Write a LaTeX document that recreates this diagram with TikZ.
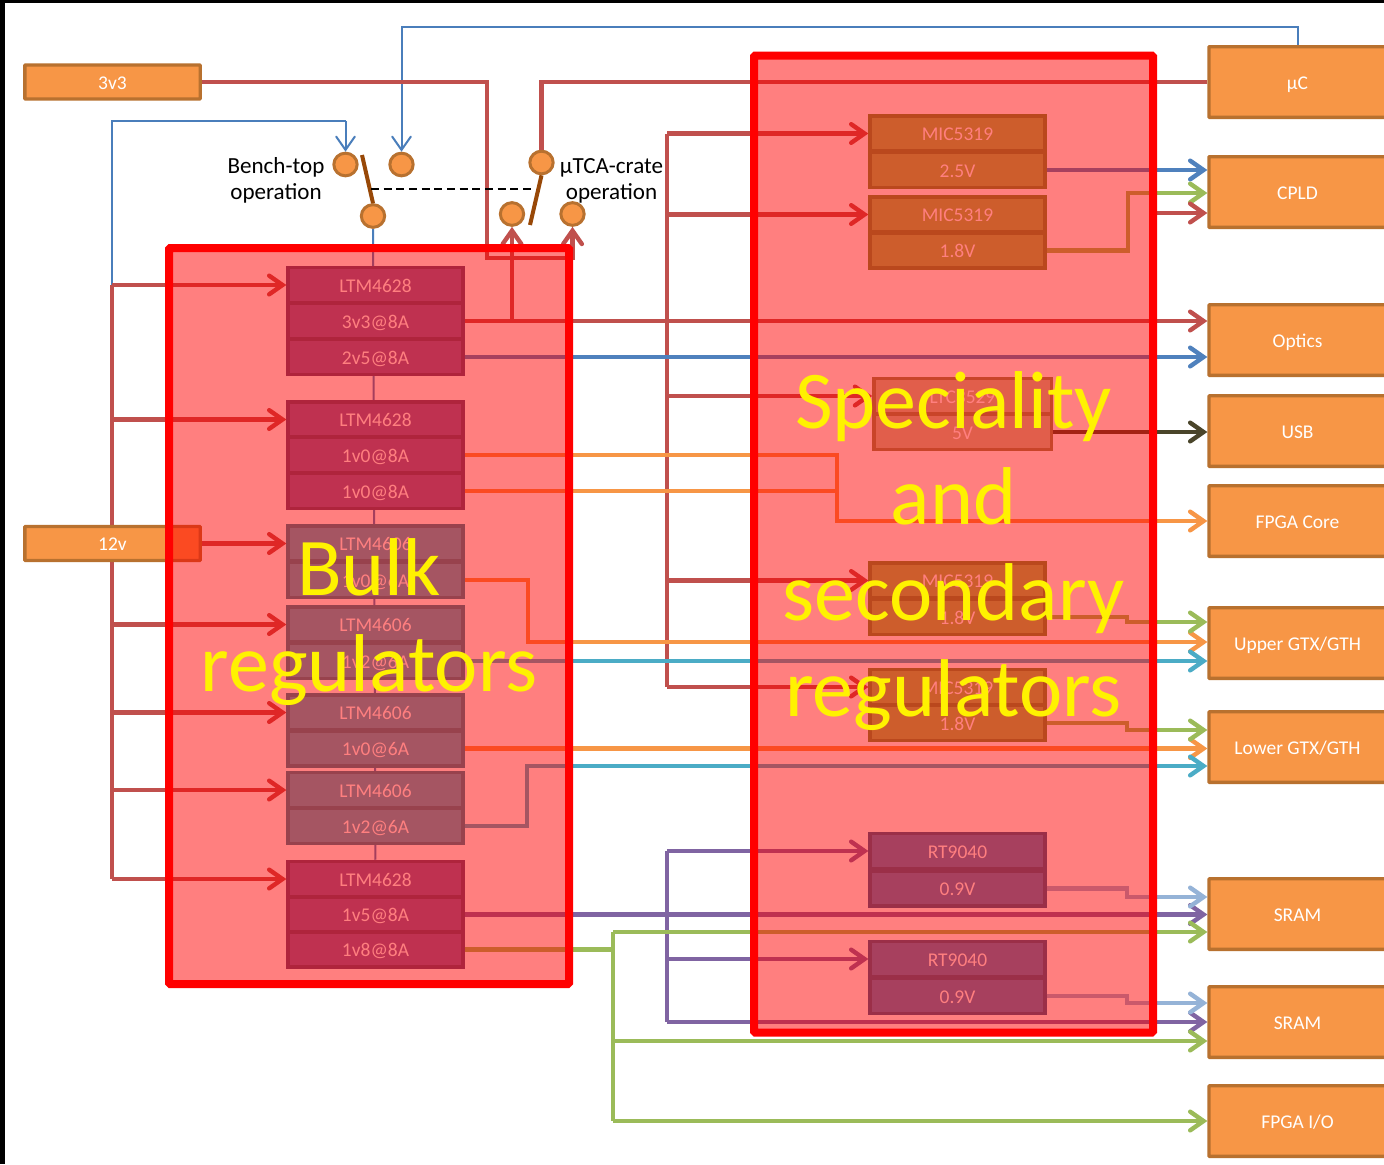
\documentclass[tikz,border=0pt]{standalone}
\usepackage{fontspec}
\setmainfont{Carlito}
\usetikzlibrary{arrows.meta,shapes.geometric}
\pgfdeclarelayer{under}
\pgfdeclarelayer{over}
\pgfsetlayers{under,main,over}
\definecolor{wRed}{HTML}{C0504D}
\definecolor{wBlue}{HTML}{4F81BD}
\definecolor{wThin}{HTML}{4A7EBB}
\definecolor{wGreen}{HTML}{9BBB59}
\definecolor{wOrange}{HTML}{F79646}
\definecolor{wAqua}{HTML}{4BACC6}
\definecolor{wPurple}{HTML}{8064A2}
\definecolor{wSky}{HTML}{95B3D7}
\definecolor{wDark}{HTML}{4A452A}
\definecolor{oEdge}{HTML}{B8712F}
\definecolor{pEdge}{HTML}{5F497A}
\definecolor{aEdge}{HTML}{31859C}
\definecolor{gEdge}{HTML}{76923C}
\definecolor{bEdge}{HTML}{376092}
\definecolor{tFill}{HTML}{C4BD97}
\definecolor{tEdge}{HTML}{948A54}
\definecolor{lever}{HTML}{984807}
\tikzset{
  x=0.75pt,y=-0.75pt,
  box/.style={draw=oEdge,fill=wOrange,line width=2.5pt,text=white,inner sep=0pt,
    font=\fontsize{14.6pt}{17pt}\selectfont,text height=11pt,text depth=0pt,rounded corners=0.5pt},
  srcbox/.style={box,minimum width=131.5pt,minimum height=25.5pt},
  sinkbox/.style={box,minimum width=132.75pt,minimum height=53pt},
  rowbox/.style={draw=#1,line width=2.5pt,text=white,inner sep=0pt,
    font=\fontsize{14.6pt}{17pt}\selectfont,text height=11pt,text depth=0pt,
    minimum width=131.25pt,minimum height=26.4pt},
  rowP/.style={rowbox=pEdge,fill=wPurple},
  rowA/.style={rowbox=aEdge,fill=wAqua},
  rowG/.style={rowbox=gEdge,fill=wGreen},
  rowB/.style={rowbox=bEdge,fill=wBlue},
  rowT/.style={rowbox=tEdge,fill=tFill,minimum width=133pt},
  pin/.style={ellipse,draw=oEdge,fill=wOrange,line width=2.25pt,inner sep=0pt,
    minimum width=17.5pt,minimum height=17pt},
  wire/.style={draw=#1,line width=3.3pt},
  thinwire/.style={draw=#1,line width=1.5pt},
  tip/.style={-{Straight Barb[length=10pt,width=14pt,line cap=round]}},
  leverline/.style={draw=lever,line width=3pt},
  zone/.style={draw=red,line width=6pt,fill=red,fill opacity=.5,rounded corners=1pt,inner sep=0pt},
  bigtext/.style={text=yellow,align=center,font=\fontsize{61.5pt}{72pt}\selectfont,inner sep=0pt},
  caption/.style={text=black,align=center,inner sep=0pt,font=\fontsize{17.3pt}{19.5pt}\selectfont}
}
\begin{document}
\begin{tikzpicture}
\useasboundingbox (0,0) rectangle (1384,1164);
\begin{pgfonlayer}{under}
\fill[white] (0,0) rectangle (1384,1164);
\fill[black] (0,0) rectangle (5,1164);
\fill[black] (0,0) rectangle (1384,3);
\end{pgfonlayer}

% sources and sinks
\node[srcbox] (v33) at (112.5,82) {3v3};
\node[srcbox] (v12) at (112.5,543.5) {12v};
\node[sinkbox] (mu) at (1297.5,82) {µC};
\node[sinkbox] (cpld) at (1297.5,192) {CPLD};
\node[sinkbox] (optics) at (1297.5,340) {Optics};
\node[sinkbox] (usb) at (1297.5,431) {USB};
\node[sinkbox] (core) at (1297.5,521) {FPGA Core};
\node[sinkbox] (upper) at (1297.5,643) {Upper GTX/GTH};
\node[sinkbox] (lower) at (1297.5,747) {Lower GTX/GTH};
\node[sinkbox] (srama) at (1297.5,914) {SRAM};
\node[sinkbox] (sramb) at (1297.5,1022) {SRAM};
\node[sinkbox] (fio) at (1297.5,1121) {FPGA I/O};

% bulk regulators
\node[rowP] (a1) at (375.5,285) {LTM4628};
\node[rowP] (a2) at (375.5,321) {3v3@8A};
\node[rowP] (a3) at (375.5,357) {2v5@8A};
\node[rowP] (b1) at (375.5,419.5) {LTM4628};
\node[rowP] (b2) at (375.5,455) {1v0@8A};
\node[rowP] (b3) at (375.5,491) {1v0@8A};
\node[rowA] (c1) at (375.5,543.5) {LTM4606};
\node[rowA] (c2) at (375.5,580) {1v0@6A};
\node[rowA] (d1) at (375.5,624.5) {LTM4606};
\node[rowA] (d2) at (375.5,661) {1v2@6A};
\node[rowA] (e1) at (375.5,712.5) {LTM4606};
\node[rowA] (e2) at (375.5,748.5) {1v0@6A};
\node[rowA] (f1) at (375.5,790) {LTM4606};
\node[rowA] (f2) at (375.5,826) {1v2@6A};
\node[rowP] (g1) at (375.5,879) {LTM4628};
\node[rowP] (g2) at (375.5,914.5) {1v5@8A};
\node[rowP] (g3) at (375.5,949.5) {1v8@8A};

% secondary regulators
\node[rowG] (m1a) at (957.5,133.5) {MIC5319};
\node[rowG] (m1b) at (957.5,170) {2.5V};
\node[rowG] (m2a) at (957.5,214.5) {MIC5319};
\node[rowG] (m2b) at (957.5,250.5) {1.8V};
\node[rowT] (la) at (962.5,396) {LTC3529};
\node[rowT] (lb) at (962.5,432) {5V};
\node[rowG] (m3a) at (957.5,580.5) {MIC5319};
\node[rowG] (m3b) at (957.5,617) {1.8V};
\node[rowG] (m4a) at (957.5,687) {MIC5319};
\node[rowG] (m4b) at (957.5,723) {1.8V};
\node[rowB] (r1a) at (957.5,851) {RT9040};
\node[rowB] (r1b) at (957.5,888.5) {0.9V};
\node[rowB] (r2a) at (957.5,959) {RT9040};
\node[rowB] (r2b) at (957.5,996) {0.9V};

% switch pins
\node[pin] (p1) at (345.5,164.5) {};
\node[pin] (p2) at (401.5,164.5) {};
\node[pin] (p3) at (373,216) {};
\node[pin] (p4) at (541.5,162.5) {};
\node[pin] (p5) at (512,214) {};
\node[pin] (p6) at (572.5,214) {};

\node[caption] (capl) at (276,180.5) {Bench-top\\operation};
\node[caption] (capr) at (611.5,180.5) {µTCA-crate\\operation};

% junction points
\coordinate (lf) at (112,0);
\coordinate (rf) at (667,0);
\coordinate (gf) at (613,0);
\coordinate (tj) at (401.5,27);
\coordinate (bj) at (345.5,121);
\coordinate (vj) at (487,258);
\coordinate (l1) at (362,155);
\coordinate (l2) at (530,225);
\coordinate (da) at (371,189);
\coordinate (db) at (535,189);
\coordinate (coreJ) at (837,521);
\coordinate (cJ) at (528,642);
\coordinate (fJ) at (527,766);
\coordinate (m2J) at (1128,193);
\coordinate (m3J) at (1127,622);
\coordinate (m4J) at (1127,730);
\coordinate (r1J) at (1127,897);
\coordinate (r2J) at (1127,1003);
\coordinate (gJ) at (613,932);
\coordinate (gK) at (613,1041);
\coordinate (cpldR) at (1153,213);

\begin{pgfonlayer}{under}
\draw[thinwire=wThin] (p3) -- (g1);
\draw[wire=wRed] (lf |- a1.west) -- (lf |- g1.west);
\draw[thinwire=wThin] (lf |- a1.west) |- (bj);
\end{pgfonlayer}

% control wires
\draw[thinwire=wThin,tip] (bj) -- (p1.north);
\draw[thinwire=wThin,tip] (mu.north) |- (tj) -- (p2.north);

% 12 V feed
\foreach \n in {a1,b1,d1,e1,f1,g1}
  \draw[wire=wRed,tip] (lf |- \n.west) -- (\n.west);
\draw[wire=wRed,tip] (v12.east) -- (c1.west);

% 3v3 feed
\draw[wire=wRed,tip] (v33.east) -| (vj) -| (p6.south);
\draw[wire=wRed] (mu.west) -| (p4.north);
\draw[wire=wRed,tip] (a2.east) -- (a2.east -| optics.west);
\draw[wire=wRed,tip] (p5.south |- a2.east) -- (p5.south);
\draw[wire=wRed] (rf |- m1a.west) -- (rf |- m4a.west);
\foreach \n in {m1a,m2a,la,m3a,m4a}
  \draw[wire=wRed,tip] (rf |- \n.west) -- (\n.west);

% outputs
\draw[wire=wBlue,tip] (m1b.east) -- (m1b.east -| cpld.west);
\draw[wire=wGreen,tip] (m2b.east) -| (m2J) -- (m2J -| cpld.west);
\draw[wire=wRed,tip] (cpldR) -- (cpldR -| cpld.west);
\draw[wire=wBlue,tip] (a3.east) -- (a3.east -| optics.west);
\draw[wire=wDark,tip] (lb.east) -- (lb.east -| usb.west);
\draw[wire=wOrange,tip] (b2.east) -| (coreJ) -- (core.west);
\draw[wire=wOrange] (b3.east) -- (b3.east -| coreJ);
\draw[wire=wOrange,tip] (c2.east) -| (cJ) -- (cJ -| upper.west);
\draw[wire=wAqua,tip] (d2.east) -- (d2.east -| upper.west);
\draw[wire=wGreen,tip] (m3b.east) -| (m3J) -- (m3J -| upper.west);
\draw[wire=wOrange,tip] (e2.east) -- (e2.east -| lower.west);
\draw[wire=wAqua,tip] (f2.east) -| (fJ) -- (fJ -| lower.west);
\draw[wire=wGreen,tip] (m4b.east) -| (m4J) -- (m4J -| lower.west);
\draw[wire=wPurple,tip] (g2.east) -- (g2.east -| srama.west);
\draw[wire=wPurple] (rf |- r1a.west) -- (rf |- sramb.west);
\draw[wire=wPurple,tip] (rf |- r1a.west) -- (r1a.west);
\draw[wire=wPurple,tip] (rf |- r2a.west) -- (r2a.west);
\draw[wire=wPurple,tip] (rf |- sramb.west) -- (sramb.west);
\draw[wire=wGreen] (g3.east) -- (gf |- g3.east);
\draw[wire=wGreen] (gJ) -- (gf |- fio.west);
\draw[wire=wGreen,tip] (gJ) -- (gJ -| srama.west);
\draw[wire=wGreen,tip] (gK) -- (gK -| sramb.west);
\draw[wire=wGreen,tip] (gf |- fio.west) -- (fio.west);
\draw[wire=wSky,tip] (r1b.east) -| (r1J) -- (r1J -| srama.west);
\draw[wire=wSky,tip] (r2b.east) -| (r2J) -- (r2J -| sramb.west);

% switch levers
\draw[leverline] (l1) -- (p3.north);
\draw[leverline] (p4.south) -- (l2);
\draw[black,line width=1.2pt,dash pattern=on 6pt off 3.5pt] (da) -- (db);

\begin{pgfonlayer}{over}
\node[zone,minimum width=300pt,minimum height=552pt] (bulkzone) at (369,616) {};
\node[zone,minimum width=299.25pt,minimum height=732.75pt] (seczone) at (953.5,544) {};
\node[bigtext] (bulktxt) at (369,622) {Bulk\\regulators};
\node[bigtext] (sectxt) at (953.5,551) {Speciality\\and\\secondary\\regulators};
\end{pgfonlayer}
\end{tikzpicture}
\end{document}
